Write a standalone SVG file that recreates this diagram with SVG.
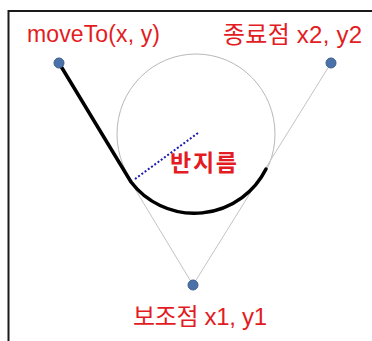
<svg xmlns="http://www.w3.org/2000/svg" width="372" height="341" viewBox="0 0 372 341">
<style>
.lbl{font-family:"Liberation Sans","Noto Sans CJK KR",sans-serif;font-size:23px;fill:#e31b23}
.ko{font-size:24px}
.dot{fill:#4a72a8;stroke:#3a5f90;stroke-width:1}
.guide{stroke:#c4c4c4;stroke-width:1;fill:none}
</style>
<rect x="0" y="0" width="372" height="341" fill="#ffffff"/>
<path d="M8.5,341 V11 H372" fill="none" stroke="#1a1a1a" stroke-width="2"/>
<g id="circle"><ellipse cx="196" cy="134" rx="79" ry="80" fill="none" stroke="#b8b8b8" stroke-width="1"/></g>
<g id="connectors">
<line class="guide" x1="59" y1="63" x2="193" y2="285"/>
<line class="guide" x1="331" y1="63" x2="193" y2="285"/>
<path d="M59,63 L131,182 A80,80 0 0 0 266,169" fill="none" stroke="#000" stroke-width="3.5" stroke-linecap="round"/>
<line x1="135" y1="179" x2="198" y2="133" stroke="#1a1ab0" stroke-width="2" stroke-dasharray="2,2"/>
</g>
<g id="start"><circle class="dot" cx="59" cy="63" r="5"/><text class="lbl" x="27" y="42" textLength="133">moveTo(x, y)</text></g>
<g id="end"><circle class="dot" cx="331" cy="63" r="5"/><text class="lbl ko" x="223" y="43" textLength="139">종료점 x2, y2</text></g>
<g id="control"><circle class="dot" cx="193" cy="285" r="5"/><text class="lbl ko" x="133" y="325" textLength="134">보조점 x1, y1</text></g>
<g id="radius"><text class="lbl" x="170" y="171" font-weight="bold" textLength="67">반지름</text></g>
</svg>
